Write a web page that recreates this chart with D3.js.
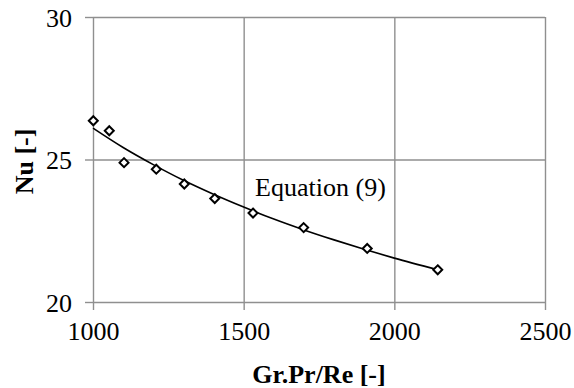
<!DOCTYPE html>
<meta charset="utf-8">
<head>
  <title>Nu vs Gr.Pr/Re</title>
</head>
<style>
  body { margin: 0; background: #fff; }
  svg text { font-family: "Liberation Serif", "Times New Roman", serif !important; }
</style>
<body>
  <div id="chart"></div>
  <script src="https://d3js.org/d3.v7.min.js"></script>
  <script>

  // measured points
  var grPrRe = [1001, 1054, 1103, 1210, 1303, 1404, 1531, 1699, 1910, 2144];
  var nu     = [26.36, 26.01, 24.89, 24.66, 24.14, 23.63, 23.12, 22.61, 21.88, 21.13];

  // fitted curve
  var fitX  = [1000, 1100, 1200, 1300, 1400, 1500, 1600, 1700, 1800, 1900, 2000, 2144];
  var fitNu = [26.10, 25.42, 24.82, 24.27, 23.78, 23.33, 22.91, 22.53, 22.18, 21.85, 21.54, 21.13];

  var xTicks = [1000, 1500, 2000, 2500];
  var yTicks = [20, 25, 30];

  var margin = {top: 17, right: 29, bottom: 86, left: 93},
      width = 574 - margin.left - margin.right,
      height = 388 - margin.top - margin.bottom;

  var svg = d3.select("#chart")
    .append("svg")
      .attr("width", 574)
      .attr("height", 388)
    .append("g")
      .attr("transform", "translate(" + margin.left + "," + margin.top + ")");

  var x = d3.scaleLinear().domain([1000, 2500]).range([0, width]);
  var y = d3.scaleLinear().domain([20, 30]).range([height, 0]);

  // grid lines (they also make the frame)
  svg.append("g")
      .attr("transform", "translate(0," + height + ")")
      .call(d3.axisBottom(x).tickValues(xTicks).tickSize(-height).tickFormat(""))
      .call(function(g) { g.select(".domain").remove(); });
  svg.append("g")
      .call(d3.axisLeft(y).tickValues(yTicks).tickSize(-width).tickFormat(""))
      .call(function(g) { g.select(".domain").remove(); });
  svg.selectAll(".tick line").attr("stroke", "#8f8f8f").attr("stroke-width", 1.4);

  // axes with outside tick marks
  var xAxis = svg.append("g")
      .attr("transform", "translate(0," + height + ")")
      .call(d3.axisBottom(x).tickValues(xTicks).tickSize(8).tickPadding(12).tickFormat(d3.format("d")));
  var yAxis = svg.append("g")
      .call(d3.axisLeft(y).tickValues(yTicks).tickSize(8).tickPadding(13));
  [xAxis, yAxis].forEach(function(a) {
    a.attr("font-family", "Liberation Serif").attr("font-size", 26);
    a.select(".domain").remove();
    a.selectAll("line").attr("stroke", "#8f8f8f").attr("stroke-width", 1.4);
    a.selectAll("text").attr("fill", "#000");
  });
  yAxis.selectAll("text").attr("dy", "0.36em");

  // fitted line
  var fit = fitX.map(function(d, i) { return [d, fitNu[i]]; });
  svg.append("path")
      .datum(fit)
      .attr("fill", "none")
      .attr("stroke", "#000")
      .attr("stroke-width", 1.6)
      .attr("d", d3.line()
        .x(function(d) { return x(d[0]); })
        .y(function(d) { return y(d[1]); })
        .curve(d3.curveMonotoneX));

  // diamond markers
  var pts = grPrRe.map(function(d, i) { return [d, nu[i]]; });
  svg.selectAll(".pt")
      .data(pts)
      .enter()
      .append("path")
        .attr("class", "pt")
        .attr("transform", function(d) { return "translate(" + x(d[0]) + "," + y(d[1]) + ")"; })
        .attr("d", "M0,-4.5L4.5,0L0,4.5L-4.5,0Z")
        .attr("fill", "#fff")
        .attr("stroke", "#000")
        .attr("stroke-width", 2);

  // annotation
  svg.append("text")
      .attr("x", x(1538))
      .attr("y", y(23.72))
      .style("font-size", "26px")
      .text("Equation (9)");

  // axis titles
  svg.append("text")
      .attr("x", width / 2)
      .attr("y", height + 81)
      .attr("text-anchor", "middle")
      .style("font-size", "26px")
      .style("font-weight", "bold")
      .text("Gr.Pr/Re [-]");
  svg.append("text")
      .attr("transform", "translate(" + (-60) + "," + (height / 2 + 2) + ") rotate(-90)")
      .attr("text-anchor", "middle")
      .style("font-size", "26px")
      .style("font-weight", "bold")
      .text("Nu [-]");

  </script>
</body>
</html>
